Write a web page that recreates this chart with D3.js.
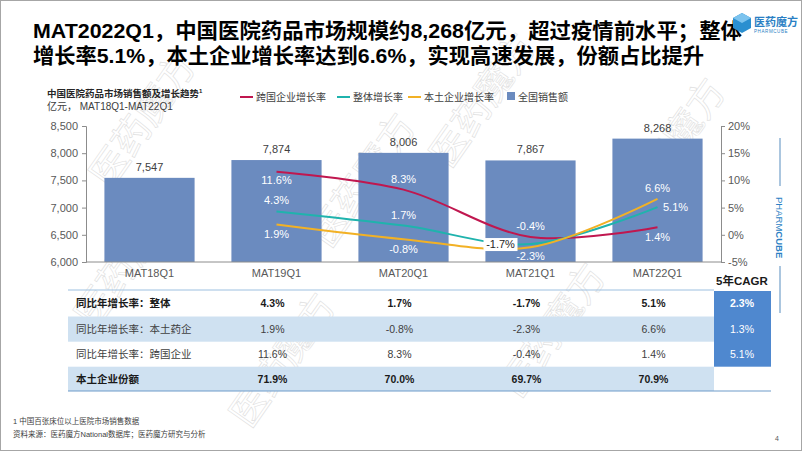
<!DOCTYPE html>
<html><head><meta charset="utf-8">
<script src="https://cdn.jsdelivr.net/npm/d3@7"></script>
<style>
body{margin:0;background:#fff;}
svg{font-family:"Liberation Sans","Noto Sans CJK SC",sans-serif;}
</style></head>
<body><svg id="c" width="802" height="451"></svg>
<script>
const categories = ["MAT18Q1","MAT19Q1","MAT20Q1","MAT21Q1","MAT22Q1"];
const sales = [7547,7874,8006,7867,8268];
const lineCats = ["MAT19Q1","MAT20Q1","MAT21Q1","MAT22Q1"];
const mncGrowth = [11.6,8.3,-0.4,1.4];
const totalGrowth = [4.3,1.7,-1.7,5.1];
const localGrowth = [1.9,-0.8,-2.3,6.6];
const localShare = [71.9,70.0,69.7,70.9];
const cagr = [2.3,1.3,5.1];
const leftTicks = [6000,6500,7000,7500,8000,8500];
const rightTicks = [-5,0,5,10,15,20];
const rowLabels = ["同比年增长率：整体","同比年增长率：本土药企","同比年增长率：跨国企业","本土企业份额"];
const seriesNames = ["跨国企业增长率","整体增长率","本土企业增长率","全国销售额"];

const svg = d3.select("#c");
const C = {bar:"#6b8bbf", red:"#c0174f", teal:"#1fb3ad", yellow:"#f2b125", txt:"#404040", axis:"#8c8c8c"};
const pct = v => v.toFixed(1)+"%";

// frame
svg.append("rect").attr("x",0.5).attr("y",0.5).attr("width",801).attr("height",450).attr("fill","#fff").attr("stroke","#a6a6a6");

// watermarks
const wm = [[95,330],[250,430],[450,170],[520,400],[640,215],[110,190],[330,250]];
wm.forEach(([x,y])=>svg.append("text").attr("transform",`translate(${x},${y}) rotate(-55)`)
  .attr("font-size",38).attr("fill","none").attr("stroke","#e0e0e0").attr("stroke-width",0.6)
  .text("医药魔方"));

// title
const t1 = "MAT2022Q1，中国医院药品市场规模约8,268亿元，超过疫情前水平；整体";
const t2 = "增长率5.1%，本土企业增长率达到6.6%，实现高速发展，份额占比提升";
svg.append("text").attr("x",33).attr("y",38).attr("font-size",21).attr("font-weight","bold").attr("fill","#000")
  .attr("textLength",709).attr("lengthAdjust","spacingAndGlyphs").text(t1);
svg.append("text").attr("x",33).attr("y",63).attr("font-size",21).attr("font-weight","bold").attr("fill","#000")
  .attr("textLength",671).attr("lengthAdjust","spacingAndGlyphs").text(t2);

// logo
const lg = svg.append("g").attr("transform","translate(733,10)");
lg.append("path").attr("d","M0,8 L9,3 L18,8 L18,18 L9,23 L0,18Z").attr("fill","#2a8fd0");
lg.append("path").attr("d","M0,8 L9,13 L18,8 L9,3Z").attr("fill","#7cc3ee");
lg.append("text").attr("x",21).attr("y",16).attr("font-size",11).attr("font-weight","bold").attr("fill","#2a7fc4").text("医药魔方");
lg.append("text").attr("x",21).attr("y",23).attr("font-size",4.5).attr("fill","#2a7fc4").attr("letter-spacing",0.6).text("PHARMCUBE");

// right side brand
svg.append("line").attr("x1",780).attr("x2",780).attr("y1",138).attr("y2",186).attr("stroke","#8fb3d4").attr("stroke-width",1.5);
svg.append("line").attr("x1",780).attr("x2",780).attr("y1",266).attr("y2",313).attr("stroke","#8fb3d4").attr("stroke-width",1.5);
const vt = svg.append("text").attr("transform","translate(776,197) rotate(90)").attr("font-size",9.5).attr("fill","#2a7fc4");
vt.append("tspan").text("PHARM");
vt.append("tspan").attr("font-weight","bold").text("CUBE");

// chart title
const ct = svg.append("text").attr("x",47).attr("y",97).attr("font-size",9.5).attr("font-weight","bold").attr("fill","#262626");
ct.append("tspan").text("中国医院药品市场销售额及增长趋势");
ct.append("tspan").attr("font-size",6).attr("dy",-4).text("1");
svg.append("text").attr("x",47).attr("y",110).attr("font-size",10).attr("fill","#404040").text("亿元，  MAT18Q1-MAT22Q1");

// scales
const x = d3.scaleBand().domain(categories).range([86,721]).paddingInner(0.29).paddingOuter(0.145);
const yL = d3.scaleLinear().domain([6000,8500]).range([262,126]);
const yR = d3.scaleLinear().domain([-5,20]).range([262,126]);
const cx = c => x(c)+x.bandwidth()/2;

// bars
svg.append("g").selectAll("rect").data(categories).join("rect")
  .attr("x",d=>x(d)).attr("width",x.bandwidth())
  .attr("y",(d,i)=>yL(sales[i])).attr("height",(d,i)=>262-yL(sales[i])).attr("fill",C.bar);
svg.append("g").selectAll("text").data(categories).join("text")
  .attr("x",d=>cx(d)).attr("y",(d,i)=>yL(sales[i])-7).attr("text-anchor","middle")
  .attr("font-size",11).attr("fill",C.txt).text((d,i)=>d3.format(",")(sales[i]));

// axes
const gl = svg.append("g").attr("transform","translate(86,0)")
  .call(d3.axisLeft(yL).tickValues(leftTicks).tickFormat(d3.format(",")).tickSize(4).tickPadding(4));
const gr = svg.append("g").attr("transform","translate(721,0)")
  .call(d3.axisRight(yR).tickValues(rightTicks).tickFormat(d=>d+"%").tickSize(4).tickPadding(3));
const gb = svg.append("g").attr("transform","translate(0,262)")
  .call(d3.axisBottom(x).tickSize(0).tickPadding(7));
[gl,gr,gb].forEach(g=>{
  g.selectAll("path,line").attr("stroke",C.axis);
  g.selectAll("text").attr("font-size",11).attr("fill","#595959").attr("font-family","Liberation Sans, sans-serif");
});
gb.select(".domain").attr("d","M86,0H721");

// lines
const line = d3.line().x(d=>cx(d.c)).y(d=>yR(d.v)).curve(d3.curveCatmullRom.alpha(0.5));
const series = [[mncGrowth,C.red],[totalGrowth,C.teal],[localGrowth,C.yellow]];
series.forEach(([vals,col])=>{
  svg.append("path").datum(lineCats.map((c,i)=>({c,v:vals[i]})))
    .attr("d",line).attr("fill","none").attr("stroke",col).attr("stroke-width",2);
});

// data labels (offsets in px relative to point)
const offs = {
  mnc:[[0,12],[0,-7],[0,-7],[0,14]],
  tot:[[0,-7],[0,-7],[-30,4],[18,4]],
  loc:[[0,14],[0,14],[0,13],[0,-7]]
};
function labels(vals,off,boxIdx){
  vals.forEach((v,i)=>{
    const px = cx(lineCats[i])+off[i][0], py = yR(v)+off[i][1];
    if(i===boxIdx){
      svg.append("rect").attr("x",px-17).attr("y",py-10).attr("width",34).attr("height",13).attr("fill","#fff");
    }
    svg.append("text").attr("x",px).attr("y",py).attr("text-anchor","middle").attr("font-size",11)
      .attr("fill",i===boxIdx?"#262626":"#fff").text(pct(v));
  });
}
labels(mncGrowth,offs.mnc,-1);
labels(totalGrowth,offs.tot,2);
labels(localGrowth,offs.loc,-1);

// legend
const lgx = [[240,C.red,0],[337,C.teal,1],[408,C.yellow,2]];
lgx.forEach(([lx,col,i])=>{
  svg.append("line").attr("x1",lx).attr("x2",lx+13).attr("y1",97).attr("y2",97).attr("stroke",col).attr("stroke-width",2);
  svg.append("text").attr("x",lx+16).attr("y",101).attr("font-size",10).attr("fill","#404040").text(seriesNames[i]);
});
svg.append("rect").attr("x",507).attr("y",92).attr("width",8).attr("height",8).attr("fill",C.bar);
svg.append("text").attr("x",518).attr("y",101).attr("font-size",10).attr("fill","#404040").text(seriesNames[3]);

// table
const rowsY = [290,316.5,341.7,366.7,391];
svg.append("rect").attr("x",68).attr("y",rowsY[1]).attr("width",646).attr("height",rowsY[2]-rowsY[1]).attr("fill","#cfe1f1");
svg.append("rect").attr("x",68).attr("y",rowsY[3]).attr("width",646).attr("height",rowsY[4]-rowsY[3]).attr("fill","#cfe1f1");
svg.append("line").attr("x1",68).attr("x2",714).attr("y1",290).attr("y2",290).attr("stroke","#9dc0e0").attr("stroke-width",1);
svg.append("line").attr("x1",68).attr("x2",771).attr("y1",391).attr("y2",391).attr("stroke","#6f9cc9").attr("stroke-width",1.2);
svg.append("rect").attr("x",714).attr("y",291).attr("width",57).attr("height",rowsY[3]-291).attr("fill","#4f88cf");
svg.append("text").attr("x",742).attr("y",285).attr("text-anchor","middle").attr("font-size",11.5).attr("font-weight","bold").attr("fill","#1a1a1a").text("5年CAGR");

const tableRows = [totalGrowth,localGrowth,mncGrowth,localShare];
tableRows.forEach((vals,r)=>{
  const yy = (rowsY[r]+rowsY[r+1])/2+4;
  const bold = (r===0||r===3);
  svg.append("text").attr("x",76).attr("y",yy).attr("font-size",10.5).attr("font-weight",bold?"bold":"normal")
    .attr("fill",bold?"#1a1a1a":"#404040").text(rowLabels[r]);
  vals.forEach((v,i)=>{
    svg.append("text").attr("x",cx(lineCats[i])-4).attr("y",yy).attr("text-anchor","middle").attr("font-size",10.5)
      .attr("font-weight",bold?"bold":"normal").attr("fill",bold?"#1a1a1a":"#404040").text(pct(v));
  });
  if(r<3){
    svg.append("text").attr("x",742).attr("y",yy).attr("text-anchor","middle").attr("font-size",10.5)
      .attr("font-weight",r===0?"bold":"normal").attr("fill","#fff").text(pct(cagr[r]));
  }
});

// footnotes
svg.append("text").attr("x",13).attr("y",424).attr("font-size",7.5).attr("fill","#404040").text("1 中国百张床位以上医院市场销售数据");
svg.append("text").attr("x",13).attr("y",437).attr("font-size",7.5).attr("fill","#404040").text("资料来源：医药魔方National数据库；医药魔方研究与分析");
svg.append("text").attr("x",775).attr("y",441).attr("font-size",7).attr("fill","#595959").text("4");
</script></body></html>
